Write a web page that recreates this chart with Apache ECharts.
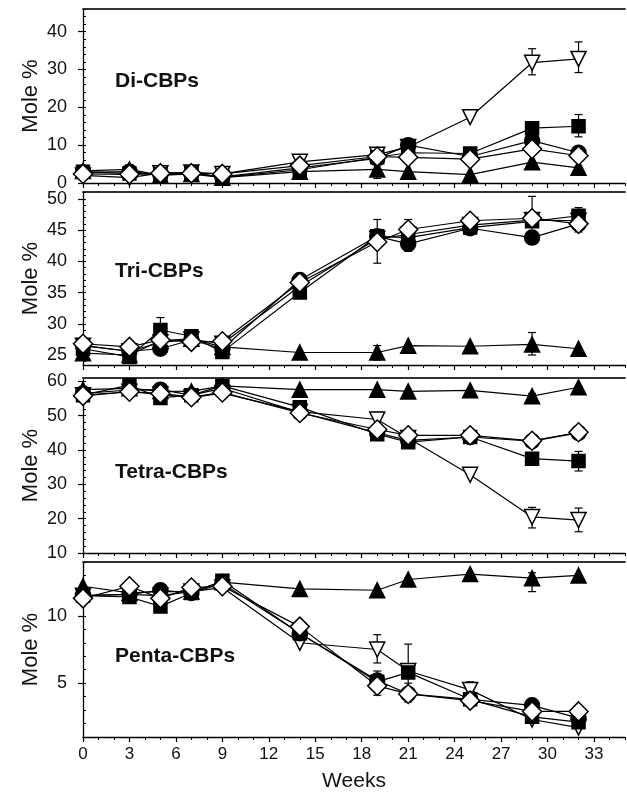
<!DOCTYPE html>
<html>
<head>
<meta charset="utf-8">
<script src="https://cdn.jsdelivr.net/npm/echarts@6.0.0/dist/echarts.min.js"></script>
<style>
  html, body { margin: 0; padding: 0; background: #fff; }
  #chart { width: 627px; height: 798px; }
</style>
</head>
<body>
<div id="chart"></div>
<script>
// sampling weeks (shared by all four panels)
var weeks = [0, 3, 5, 7, 9, 14, 19, 21, 25, 29, 32];
var weekTicks = [0, 3, 6, 9, 12, 15, 18, 21, 24, 27, 30, 33];

// Di-CBPs
var diTicks = [0, 10, 20, 30, 40];
var diTriDown = [2.0, 1.4, 2.6, 2.8, 2.4, 5.6, 7.5, 9.5, 17.4, 31.8, 32.8];
var diSquare  = [3.0, 2.5, 2.3, 2.8, 1.5, 3.5, 6.8, 8.0, 7.8, 14.5, 15.0];
var diCircle  = [2.8, 3.0, 2.2, 2.5, 1.6, 4.0, 6.5, 10.0, 7.0, 11.2, 8.0];
var diTriUp   = [3.2, 3.6, 2.0, 2.4, 1.4, 3.0, 3.6, 3.0, 2.2, 5.5, 4.0];
var diDiamond = [2.4, 2.3, 2.6, 2.6, 2.4, 4.6, 7.0, 6.8, 6.3, 9.0, 7.2];
var diErr = [[3, 0.8, 4.8], [19, 1.2, 7.0], [29, 28.6, 35.5], [32, 29.2, 37.3], [32, 12.2, 18.1]];

// Tri-CBPs
var triTicks = [25, 30, 35, 40, 45, 50];
var triTriDown = [26.5, 25.6, 27.0, 27.5, 26.8, 36.0, 43.6, 44.3, 45.8, 46.6, 46.5];
var triSquare  = [26.0, 24.7, 29.0, 28.0, 25.5, 35.0, 44.0, 43.8, 45.4, 46.4, 47.3];
var triCircle  = [26.5, 25.6, 26.0, 27.4, 26.0, 37.0, 44.0, 42.8, 45.3, 43.8, 46.0];
var triTriUp   = [25.3, 25.0, 27.3, 27.6, 26.3, 25.4, 25.4, 26.5, 26.4, 26.7, 26.0];
var triDiamond = [26.8, 26.3, 27.4, 27.1, 27.2, 36.6, 43.1, 45.1, 46.5, 46.9, 46.0];
var triErr = [[3, 24.0, 26.0], [5, 27.0, 31.0], [9, 25.0, 27.5], [19, 39.7, 46.7], [19, 24.2, 26.5],
              [21, 41.6, 46.7], [29, 25.0, 28.6], [29, 46.0, 50.4], [32, 44.7, 48.6]];

// Tetra-CBPs
var tetTicks = [10, 20, 30, 40, 50, 60];
var tetTriDown = [56.0, 57.0, 56.2, 55.3, 56.6, 51.2, 48.9, 43.5, 32.8, 20.5, 19.6];
var tetSquare  = [56.0, 58.9, 55.2, 56.0, 58.7, 52.5, 44.6, 42.3, 43.8, 37.5, 36.8];
var tetCircle  = [56.5, 57.5, 57.6, 56.0, 58.0, 51.0, 45.0, 42.8, 43.8, 42.6, 45.0];
var tetTriUp   = [57.6, 58.0, 57.2, 57.1, 58.7, 57.6, 57.6, 57.1, 57.4, 55.7, 58.3];
var tetDiamond = [55.8, 57.0, 56.5, 55.4, 56.8, 50.8, 46.0, 44.3, 44.3, 42.7, 45.2];
var tetErr = [[19, 47.0, 51.0], [29, 17.3, 23.3], [32, 16.2, 23.1], [32, 33.9, 39.6],
              [29, 53.6, 56.5], [32, 56.5, 58.5]];

// Penta-CBPs
var penTicks = [5, 10];
var penTriDown = [11.5, 11.6, 11.5, 11.8, 12.1, 8.0, 7.5, 5.9, 4.5, 2.3, 1.7];
var penSquare  = [11.5, 11.4, 10.7, 11.7, 12.6, 8.7, 5.1, 5.8, 3.8, 2.5, 2.1];
var penCircle  = [11.5, 11.6, 11.9, 11.7, 12.4, 8.7, 5.2, 4.2, 3.8, 3.35, 2.4];
var penTriUp   = [12.2, 11.7, 11.8, 11.8, 12.5, 12.0, 11.9, 12.7, 13.1, 12.8, 13.0];
var penDiamond = [11.3, 12.2, 11.3, 12.1, 12.2, 9.2, 4.8, 4.2, 3.7, 2.9, 2.9];
var penErr = [[19, 6.5, 8.6], [21, 5.0, 7.9], [25, 4.3, 5.1], [29, 11.8, 13.2], [25, 12.6, 13.2],
              [21, 12.3, 12.8], [19, 4.1, 5.9], [21, 3.6, 4.5]];

var FONT = '"Liberation Sans", Arial, Helvetica, sans-serif';
var INK = '#111';

// marker look, in drawing order (last one on top)
var markers = [
  { symbol: 'triangle', rotate: 180, fill: '#fff', size: 15 },
  { symbol: 'rect', rotate: 0, fill: '#000', size: 13 },
  { symbol: 'circle', rotate: 0, fill: '#000', size: 15 },
  { symbol: 'triangle', rotate: 0, fill: '#000', size: 15 },
  { symbol: 'diamond', rotate: 0, fill: '#fff', size: 19 }
];

var panels = [
  { label: 'Di-CBPs', min: 0, max: 46, ticks: diTicks, minorStep: 2, top: 9, height: 174, labelTop: 66,
    data: [diTriDown, diSquare, diCircle, diTriUp, diDiamond], err: diErr },
  { label: 'Tri-CBPs', min: 23.4, max: 51.1, ticks: triTicks, minorStep: 1, top: 192, height: 173, labelTop: 256,
    data: [triTriDown, triSquare, triCircle, triTriUp, triDiamond], err: triErr },
  { label: 'Tetra-CBPs', min: 10, max: 61, ticks: tetTicks, minorStep: 2, top: 378, height: 175, labelTop: 457,
    data: [tetTriDown, tetSquare, tetCircle, tetTriUp, tetDiamond], err: tetErr },
  { label: 'Penta-CBPs', min: 1, max: 14, ticks: penTicks, minorStep: 1, top: 562, height: 175, labelTop: 641,
    data: [penTriDown, penSquare, penCircle, penTriUp, penDiamond], err: penErr }
];

function steps(min, max, step) {
  var out = [];
  for (var v = Math.ceil(min / step) * step; v <= max + 1e-9; v += step) {
    out.push(Math.round(v * 100) / 100);
  }
  return out;
}

var grid = [], xAxis = [], yAxis = [], series = [], title = [];
var weekMinor = steps(0, 35, 1);

panels.forEach(function (p, i) {
  var last = i === panels.length - 1;
  grid.push({ left: 83, right: 2, top: p.top, height: p.height, outerBoundsMode: 'none' });
  title.push({ text: p.label, left: 110, top: p.labelTop,
    textStyle: { fontFamily: FONT, fontSize: 21, fontWeight: 'bold', color: INK } });

  // bottom axis with major ticks and labels (labels only on last panel)
  xAxis.push({
    type: 'value', gridIndex: i, min: 0, max: 35, position: 'bottom',
    axisLine: { show: true, lineStyle: { color: '#000', width: 1.3 } },
    axisTick: { show: true, length: 5, customValues: weekTicks, lineStyle: { color: '#000', width: 1.2 } },
    axisLabel: { show: last, customValues: weekTicks, margin: 9, fontFamily: FONT, fontSize: 17, color: INK },
    splitLine: { show: false },
    name: last ? 'Weeks' : '', nameLocation: 'middle', nameGap: 34,
    nameTextStyle: { fontFamily: FONT, fontSize: 21, color: INK }
  });
  // minor week ticks
  xAxis.push({
    type: 'value', gridIndex: i, min: 0, max: 35, position: 'bottom',
    axisLine: { show: false },
    axisTick: { show: true, length: 3, customValues: weekMinor, lineStyle: { color: '#000', width: 1 } },
    axisLabel: { show: false }, splitLine: { show: false }
  });
  // top frame line
  xAxis.push({
    type: 'value', gridIndex: i, min: 0, max: 35, position: 'top',
    axisLine: { show: true, lineStyle: { color: '#333', width: 1.8 } },
    axisTick: { show: false }, axisLabel: { show: false }, splitLine: { show: false }
  });

  yAxis.push({
    type: 'value', gridIndex: i, min: p.min, max: p.max,
    axisLine: { show: true, lineStyle: { color: '#000', width: 1.3 } },
    axisTick: { show: true, length: 5, customValues: p.ticks, lineStyle: { color: '#000', width: 1.2 } },
    axisLabel: { customValues: p.ticks, margin: 16, fontFamily: FONT, fontSize: 18, color: INK },
    splitLine: { show: false },
    name: 'Mole %', nameLocation: 'middle', nameGap: 41, nameMoveOverlap: false,
    nameTextStyle: { fontFamily: FONT, fontSize: 22, color: INK }
  });
  yAxis.push({
    type: 'value', gridIndex: i, min: p.min, max: p.max,
    axisLine: { show: false },
    axisTick: { show: true, length: 3, customValues: steps(p.min, p.max, p.minorStep), lineStyle: { color: '#000', width: 1 } },
    axisLabel: { show: false }, splitLine: { show: false }
  });

  // error bars beneath the markers
  series.push({
    type: 'custom', xAxisIndex: i * 3, yAxisIndex: i * 2, data: p.err, z: 1, silent: true,
    encode: { x: 0, y: [1, 2] },
    renderItem: function (params, api) {
      var hi = api.coord([api.value(0), api.value(2)]);
      var lo = api.coord([api.value(0), api.value(1)]);
      var cap = 4;
      var st = { stroke: '#000', lineWidth: 1.2 };
      return {
        type: 'group', children: [
          { type: 'line', shape: { x1: hi[0], y1: hi[1], x2: lo[0], y2: lo[1] }, style: st },
          { type: 'line', shape: { x1: hi[0] - cap, y1: hi[1], x2: hi[0] + cap, y2: hi[1] }, style: st },
          { type: 'line', shape: { x1: lo[0] - cap, y1: lo[1], x2: lo[0] + cap, y2: lo[1] }, style: st }
        ]
      };
    }
  });

  p.data.forEach(function (vals, k) {
    var m = markers[k];
    series.push({
      type: 'line', xAxisIndex: i * 3, yAxisIndex: i * 2, z: 2 + k,
      data: weeks.map(function (w, j) { return [w, vals[j]]; }),
      symbol: m.symbol, symbolRotate: m.rotate, symbolSize: m.size, showAllSymbol: true,
      lineStyle: { color: '#000', width: 1.2 },
      itemStyle: { color: m.fill, borderColor: '#000', borderWidth: 1.5 },
      emphasis: { disabled: true }, silent: true
    });
  });
});

var chart = echarts.init(document.getElementById('chart'), null, { renderer: 'canvas' });
chart.setOption({
  animation: false,
  backgroundColor: '#fff',
  title: title,
  grid: grid,
  xAxis: xAxis,
  yAxis: yAxis,
  series: series
});
</script>
</body>
</html>
